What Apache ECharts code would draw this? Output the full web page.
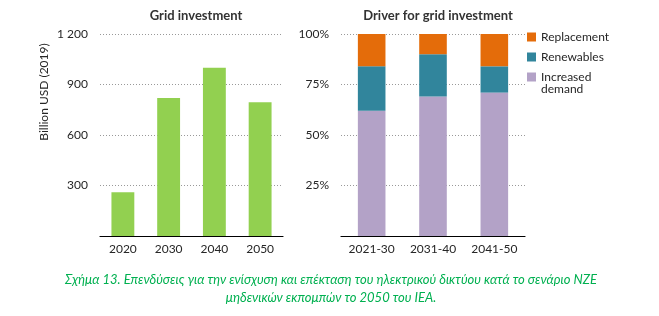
<!DOCTYPE html>
<html lang="el">
<head>
<meta charset="UTF-8">
<title>Grid investment</title>
<script src="https://cdn.jsdelivr.net/npm/echarts@6/dist/echarts.min.js"></script>
<style>
  html, body { margin: 0; padding: 0; background: #fff; }
  #chart { width: 659px; height: 316px; }
</style>
</head>
<body>
<div id="chart"></div>
<script>
// data
var years = ['2020', '2030', '2040', '2050'];
var investment = [260, 820, 1000, 795];          // billion USD (2019)

var periods = ['2021-30', '2031-40', '2041-50'];
var demandShare = [62, 69, 71];                   // %
var renewShare = [22, 21, 13];
var replaceShare = [16, 10, 16];

var font = 'Lato, "Noto Sans", sans-serif';
var txt = '#262626';

var myChart = echarts.init(document.getElementById('chart'));

var option = {
  animation: false,
  textStyle: { fontFamily: font },
  title: [
    { text: 'Grid investment', left: 191, top: 4, textAlign: 'center',
      textStyle: { fontSize: 13, fontWeight: 'bold', color: '#333', fontFamily: font } },
    { text: 'Driver for grid investment', left: 433, top: 4, textAlign: 'center',
      textStyle: { fontSize: 13, fontWeight: 'bold', color: '#333', fontFamily: font } },
    { text: 'Σχήμα 13. Επενδύσεις για την ενίσχυση και επέκταση του ηλεκτρικού δικτύου κατά το σενάριο NZE\nμηδενικών εκπομπών το 2050 του IEA.',
      left: 326, top: 266, textAlign: 'center',
      textStyle: { fontSize: 13, fontStyle: 'italic', fontWeight: 'normal', color: '#00B050',
                   lineHeight: 18, fontFamily: font } }
  ],
  legend: [
    { data: ['Replacement', 'Renewables'], orient: 'vertical', left: 527, top: 30,
      padding: 0, itemWidth: 9, itemHeight: 9, itemGap: 6, icon: 'rect',
      textStyle: { fontSize: 12, color: txt, lineHeight: 14, fontFamily: font } },
    // leading blank line keeps the swatch level with the first text line
    { data: ['Increased demand'], orient: 'vertical', left: 527, top: 59,
      padding: 0, itemWidth: 9, itemHeight: 9, icon: 'rect',
      formatter: function () { return '\nIncreased\ndemand'; },
      textStyle: { fontSize: 12, color: txt, lineHeight: 12, fontFamily: font } }
  ],
  grid: [
    { left: 100, width: 183, top: 34, height: 202 },
    { left: 341, width: 184, top: 34, height: 202 }
  ],
  xAxis: [
    { type: 'category', gridIndex: 0, data: years,
      axisTick: { show: false },
      axisLine: { lineStyle: { color: '#000', width: 1.2 } },
      axisLabel: { fontSize: 12, color: txt, margin: 7 } },
    { type: 'category', gridIndex: 1, data: periods,
      axisTick: { show: false },
      axisLine: { lineStyle: { color: '#000', width: 1.2 } },
      axisLabel: { fontSize: 12, color: txt, margin: 7 } }
  ],
  yAxis: [
    { type: 'value', gridIndex: 0, min: 0, max: 1200, interval: 300,
      axisLine: { show: false }, axisTick: { show: false },
      axisLabel: { fontSize: 12, color: txt, margin: 12,
        formatter: function (v) { return v === 0 ? '' : String(v).replace(/\B(?=(\d{3})+(?!\d))/g, ' '); } },
      splitLine: { lineStyle: { color: '#999', type: [1, 2], width: 1 } } },
    { type: 'value', gridIndex: 1, min: 0, max: 100, interval: 25,
      axisLine: { show: false }, axisTick: { show: false },
      axisLabel: { fontSize: 12, color: txt, margin: 12,
        formatter: function (v) { return v === 0 ? '' : v + '%'; } },
      splitLine: { lineStyle: { color: '#999', type: [1, 2], width: 1 } } }
  ],
  graphic: [
    { type: 'text', x: 44, y: 92, rotation: Math.PI / 2,
      style: { text: 'Billion USD (2019)', fontSize: 12, fill: txt, fontFamily: font,
               align: 'center', verticalAlign: 'middle' } }
  ],
  series: [
    { name: 'Grid investment', type: 'bar', xAxisIndex: 0, yAxisIndex: 0,
      data: investment, barWidth: '50%', itemStyle: { color: '#92D050' } },
    { name: 'Increased demand', type: 'bar', stack: 'share', xAxisIndex: 1, yAxisIndex: 1,
      data: demandShare, barWidth: '45%', itemStyle: { color: '#B3A2C7' } },
    { name: 'Renewables', type: 'bar', stack: 'share', xAxisIndex: 1, yAxisIndex: 1,
      data: renewShare, barWidth: '45%', itemStyle: { color: '#31859C' } },
    { name: 'Replacement', type: 'bar', stack: 'share', xAxisIndex: 1, yAxisIndex: 1,
      data: replaceShare, barWidth: '45%', itemStyle: { color: '#E46C0A' } }
  ]
};

myChart.setOption(option);
</script>
</body>
</html>
